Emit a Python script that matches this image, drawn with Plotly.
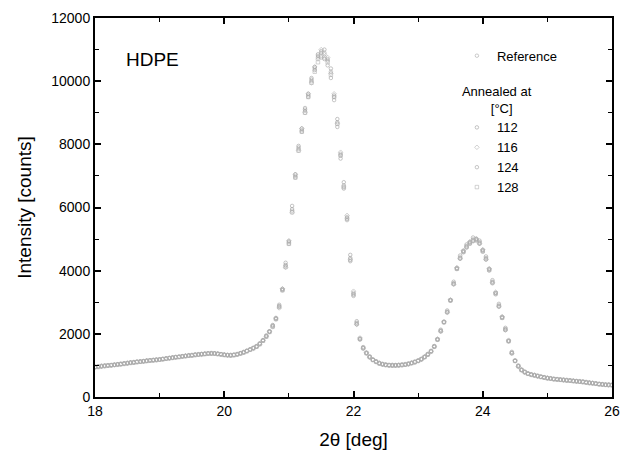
import numpy as np
import plotly.graph_objects as go

# 2-theta grid (deg), 18.00 .. 26.00 step 0.05
two_theta = [round(18 + 0.05 * i, 2) for i in range(161)]

reference = [
    950, 960, 975, 985, 995, 1005, 1015, 1030, 1040, 1055,
    1070, 1085, 1095, 1110, 1120, 1130, 1145, 1155, 1165, 1175,
    1185, 1200, 1215, 1230, 1245, 1260, 1270, 1285, 1300, 1310,
    1320, 1335, 1345, 1355, 1365, 1375, 1380, 1375, 1365, 1350,
    1335, 1325, 1320, 1330, 1350, 1380, 1415, 1455, 1500, 1545,
    1600, 1680, 1790, 1920, 2070, 2240, 2480, 2860, 3400, 4150,
    4900, 5900, 7000, 7850, 8450, 9050, 9550, 10000, 10400, 10750,
    10950, 10900, 10700, 10300, 9550, 8700, 7700, 6700, 5700, 4400,
    3300, 2350, 1850, 1560, 1400, 1270, 1180, 1120, 1070, 1040,
    1020, 1010, 1005, 1005, 1010, 1020, 1030, 1050, 1080, 1110,
    1150, 1200, 1270, 1350, 1450, 1600, 1830, 2100, 2380, 2700,
    3070, 3600, 4080, 4420, 4620, 4780, 4900, 4990, 5000, 4900,
    4650, 4400, 4050, 3650, 3300, 2900, 2530, 2150, 1780, 1400,
    1150, 980, 860, 790, 740, 710, 690, 665, 640, 620,
    600, 585, 570, 560, 550, 540, 530, 520, 510, 500,
    490, 480, 465, 450, 440, 425, 410, 400, 390, 385,
    380,
]

annealed_112 = [
    940, 970, 965, 995, 990, 1015, 1010, 1040, 1035, 1065,
    1060, 1095, 1090, 1120, 1115, 1140, 1140, 1165, 1160, 1185,
    1180, 1210, 1210, 1240, 1240, 1270, 1265, 1295, 1295, 1320,
    1315, 1345, 1340, 1365, 1360, 1385, 1375, 1385, 1360, 1360,
    1330, 1335, 1315, 1340, 1345, 1390, 1410, 1465, 1495, 1560,
    1590, 1700, 1780, 1950, 2060, 2280, 2460, 2920, 3380, 4250,
    4850, 6050, 6950, 7950, 8400, 9150, 9500, 10100, 10350, 10850,
    10900, 11000, 10650, 10400, 9500, 8800, 7650, 6800, 5650, 4500,
    3250, 2400, 1830, 1580, 1390, 1285, 1175, 1130, 1065, 1050,
    1015, 1020, 1000, 1015, 1005, 1030, 1025, 1060, 1075, 1120,
    1145, 1210, 1265, 1365, 1445, 1615, 1820, 2130, 2370, 2740,
    3060, 3650, 4070, 4480, 4610, 4830, 4890, 5050, 4990, 4950,
    4640, 4450, 4040, 3700, 3290, 2950, 2520, 2190, 1770, 1430,
    1140, 1000, 855, 805, 735, 720, 685, 675, 635, 630,
    595, 595, 565, 570, 545, 550, 525, 530, 505, 510,
    485, 490, 460, 460, 435, 435, 405, 410, 385, 395,
    375,
]

annealed_116 = [
    960, 955, 985, 980, 1005, 1000, 1025, 1025, 1050, 1050,
    1080, 1080, 1105, 1105, 1130, 1125, 1155, 1150, 1175, 1170,
    1195, 1195, 1225, 1225, 1255, 1250, 1280, 1280, 1310, 1305,
    1330, 1330, 1355, 1350, 1375, 1370, 1390, 1370, 1375, 1345,
    1345, 1320, 1330, 1325, 1360, 1375, 1425, 1450, 1510, 1540,
    1610, 1670, 1800, 1910, 2080, 2220, 2500, 2820, 3430, 4100,
    4950, 5850, 7050, 7800, 8500, 9000, 9600, 9950, 10450, 10700,
    11000, 10850, 10750, 10250, 9600, 8650, 7750, 6650, 5750, 4350,
    3350, 2300, 1870, 1540, 1410, 1260, 1190, 1110, 1080, 1030,
    1030, 1000, 1015, 995, 1020, 1010, 1040, 1040, 1090, 1100,
    1160, 1190, 1280, 1340, 1460, 1590, 1840, 2080, 2390, 2680,
    3080, 3560, 4100, 4380, 4640, 4750, 4920, 4950, 5020, 4860,
    4670, 4360, 4070, 3620, 3320, 2870, 2550, 2120, 1800, 1380,
    1160, 965, 870, 780, 750, 700, 700, 655, 650, 610,
    610, 580, 580, 555, 560, 535, 540, 515, 520, 495,
    500, 475, 475, 445, 450, 420, 420, 395, 400, 380,
    390,
]

annealed_124 = [
    945, 965, 970, 990, 1000, 1010, 1020, 1035, 1045, 1060,
    1075, 1090, 1100, 1115, 1125, 1135, 1150, 1160, 1170, 1180,
    1190, 1205, 1220, 1235, 1250, 1265, 1275, 1290, 1305, 1315,
    1325, 1340, 1350, 1360, 1370, 1380, 1385, 1380, 1370, 1355,
    1340, 1330, 1325, 1335, 1355, 1385, 1420, 1460, 1505, 1550,
    1605, 1690, 1800, 1930, 2080, 2260, 2500, 2880, 3420, 4180,
    4930, 5950, 7050, 7900, 8500, 9100, 9600, 10050, 10450, 10800,
    10750, 10700, 10500, 10100, 9400, 8550, 7550, 6600, 5600, 4300,
    3200, 2300, 1820, 1540, 1380, 1260, 1170, 1110, 1060, 1030,
    1010, 1000, 995, 995, 1000, 1010, 1020, 1040, 1070, 1100,
    1140, 1190, 1260, 1340, 1440, 1590, 1810, 2080, 2360, 2680,
    3050, 3580, 4050, 4380, 4580, 4730, 4850, 4930, 4950, 4850,
    4600, 4350, 4000, 3600, 3250, 2860, 2500, 2120, 1760, 1390,
    1140, 970, 850, 785, 735, 705, 685, 660, 635, 615,
    595, 580, 565, 555, 545, 535, 525, 515, 505, 495,
    485, 475, 460, 445, 435, 420, 405, 395, 385, 380,
    375,
]

annealed_128 = [
    955, 950, 980, 980, 1000, 1000, 1020, 1020, 1045, 1050,
    1070, 1080, 1090, 1105, 1115, 1125, 1140, 1150, 1160, 1170,
    1180, 1195, 1210, 1225, 1240, 1255, 1265, 1280, 1290, 1305,
    1315, 1330, 1340, 1350, 1360, 1370, 1375, 1370, 1360, 1345,
    1330, 1320, 1315, 1325, 1345, 1375, 1410, 1450, 1495, 1540,
    1595, 1675, 1780, 1910, 2060, 2230, 2470, 2850, 3380, 4120,
    4850, 5850, 6950, 7800, 8400, 9000, 9500, 9950, 10300, 10600,
    10800, 10750, 10600, 10200, 9500, 8650, 7650, 6650, 5650, 4350,
    3250, 2330, 1840, 1550, 1390, 1265, 1175, 1115, 1065, 1035,
    1015, 1005, 1000, 1000, 1005, 1015, 1025, 1045, 1075, 1105,
    1145, 1195, 1265, 1345, 1445, 1595, 1820, 2090, 2370, 2690,
    3060, 3590, 4060, 4400, 4600, 4760, 4870, 4960, 4980, 4880,
    4620, 4380, 4030, 3630, 3280, 2880, 2510, 2140, 1770, 1390,
    1145, 975, 855, 785, 735, 705, 685, 660, 635, 615,
    595, 580, 565, 555, 545, 535, 525, 515, 505, 495,
    485, 475, 460, 445, 435, 420, 405, 395, 385, 380,
    375,
]

series_names = ["Reference", "112", "116", "124", "128"]
series_values = [reference, annealed_112, annealed_116, annealed_124, annealed_128]
series_symbols = ["circle-open", "circle-open", "diamond-open", "circle-open", "square-open"]
series_colors = ["#a8a8a8", "#9c9c9c", "#b0b0b0", "#a0a0a0", "#b4b4b4"]

x_ticks = [18, 20, 22, 24, 26]
y_ticks = [0, 2000, 4000, 6000, 8000, 10000, 12000]
y_tick_labels = ["0", "2000", "4000", "6000", "8000", "10000", "12000"]

fig = go.Figure()
for k, (name, vals) in enumerate(zip(series_names, series_values)):
    grp = "ref" if k == 0 else "ann"
    fig.add_trace(go.Scatter(
        x=two_theta, y=vals, mode="markers", name=name,
        legendgroup=grp,
        legendgrouptitle=(dict(text="Annealed at<br>\u00a0\u00a0\u00a0\u00a0\u00a0\u00a0\u00a0\u00a0[°C]",
                               font=dict(size=13, color="black")) if k == 1 else None),
        marker=dict(symbol=series_symbols[k], size=3.5, color=series_colors[k],
                    line=dict(width=0.6, color=series_colors[k])),
    ))

axis_common = dict(
    showline=True, linecolor="black", linewidth=2, mirror="allticks",
    ticks="inside", ticklen=6, tickwidth=1.5, tickcolor="black",
    showgrid=False, zeroline=False, automargin=False,
    tickfont=dict(family="Arial, Liberation Sans, sans-serif", size=14, color="black"),
)

fig.update_xaxes(
    range=[18, 26], tickvals=x_ticks,
    minor=dict(dtick=1, ticks="inside", ticklen=4, tickwidth=1.2, tickcolor="black"),
    title=dict(text="2θ [deg]", font=dict(size=19, color="black")),
    **axis_common,
)
fig.update_yaxes(
    range=[0, 12000], tickvals=y_ticks, ticktext=y_tick_labels,
    minor=dict(dtick=1000, ticks="inside", ticklen=4, tickwidth=1.2, tickcolor="black"),
    title=dict(text="Intensity [counts]", font=dict(size=19, color="black")),
    **axis_common,
)

fig.add_annotation(
    text="HDPE", xref="paper", yref="paper", x=0.056, y=0.89,
    xanchor="left", yanchor="middle", showarrow=False,
    font=dict(size=19, color="black"),
)

fig.update_layout(
    width=621, height=456, autosize=False,
    margin=dict(l=95, r=9, t=18, b=59),
    paper_bgcolor="white", plot_bgcolor="white",
    font=dict(family="Arial, Liberation Sans, sans-serif", color="black"),
    showlegend=True,
    legend=dict(
        x=0.700, y=0.94, xanchor="left", yanchor="top",
        bgcolor="rgba(0,0,0,0)", borderwidth=0,
        font=dict(size=13, color="black"),
        tracegroupgap=15, itemwidth=30,
    ),
)

fig.write_html(
    "out.html",
    config={"responsive": False, "displayModeBar": False},
    post_script="document.body.style.margin='0';document.body.style.overflow='hidden';",
)
